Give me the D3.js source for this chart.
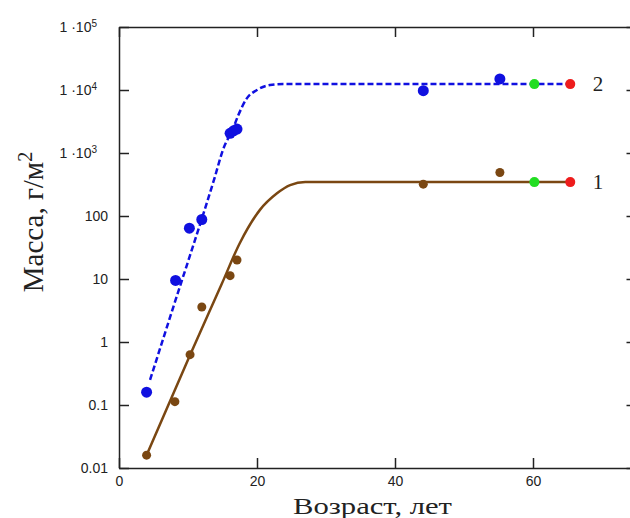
<!DOCTYPE html>
<html>
<head>
<meta charset="utf-8">
<script src="https://cdn.jsdelivr.net/npm/d3@7"></script>
<style>
  body { margin: 0; background: #fff; }
  .tick text { font-family: "Liberation Sans", Arial, sans-serif; font-size: 14px; fill: #222; }
  .title { font-family: "Liberation Serif", "Times New Roman", serif; fill: #222; }
</style>
</head>
<body>
<div id="container"></div>
<script>
/* CONSTANTS AND GLOBALS */
const width = 630,
  height = 518,
  margin = {top: 27, bottom: 50, left: 119, right: -6.5};

// tick values
const xTicks = [0, 20, 40, 60];
const yTicks = [0.01, 0.1, 1, 10, 100, 1e3, 1e4, 1e5];

// series 2 (blue) measured points
const ageBlue = [4, 8.2, 10.2, 12, 16.1, 16.6, 17.1, 44.1, 55.2];
const massBlue = [0.16, 9.5, 64, 88, 2050, 2250, 2400, 9750, 15000];

// series 1 (brown) measured points
const ageBrown = [4, 8.1, 10.3, 12, 16.1, 17.1, 44.1, 55.2];
const massBrown = [0.016, 0.113, 0.63, 3.6, 11.3, 20, 320, 490];

// end points (green, red) for both series
const endAge = [60.2, 65.4];
const endMassBlue = [12400, 12400];
const endMassBrown = [345, 345];

// fitted curves
const curveBlueAge = [4.5, 7.6, 13.9, 15.1, 16.5, 17.3, 18.5, 20.0, 21.9, 23.8, 65.4];
const curveBlueMass = [0.25, 2.9, 420, 1150, 2400, 4000, 7300, 10000, 12000, 12400, 12400];
const curveBrownAge = [4, 10.3, 14.9, 17.5, 20.4, 22.9, 24.8, 27, 65.4];
const curveBrownMass = [0.016, 0.62, 8.4, 37, 124, 229, 309, 345, 345];

const seriesLabels = ["2", "1"];

const colors = {blue: "#1010e0", brown: "#7a4712", green: "#22dd22", red: "#ee1c1c"};

let svg, xScale, yScale;

/* INIT */
function init() {
  xScale = d3.scaleLinear()
    .domain([0, 75])
    .range([margin.left, width - margin.right]);

  yScale = d3.scaleLog()
    .domain([0.01, 1e5])
    .range([height - margin.bottom, margin.top]);

  svg = d3.select("#container")
    .append("svg")
    .attr("width", width)
    .attr("height", height);

  const sup = {"1000": "3", "10000": "4", "100000": "5"};

  // + AXES (ticks point inward on all four sides)
  const xAxis = d3.axisBottom(xScale).tickValues(xTicks).tickSize(-10).tickSizeOuter(0).tickPadding(8);
  const yAxis = d3.axisLeft(yScale).tickValues(yTicks).tickSize(-10).tickSizeOuter(0).tickPadding(11)
    .tickFormat(d => d >= 1000 ? "" : (d < 1 ? d3.format("")(d) : d));

  const xg = svg.append("g")
    .attr("transform", `translate(0,${height - margin.bottom})`)
    .call(xAxis);

  const yg = svg.append("g")
    .attr("transform", `translate(${margin.left},0)`)
    .call(yAxis);

  svg.append("g")
    .attr("transform", `translate(0,${margin.top})`)
    .call(d3.axisTop(xScale).tickValues(xTicks).tickSize(-10).tickSizeOuter(0).tickFormat(""));

  svg.append("g")
    .attr("transform", `translate(${width - margin.right},0)`)
    .call(d3.axisRight(yScale).tickValues(yTicks).tickSize(-10).tickSizeOuter(0).tickFormat(""));

  svg.selectAll(".domain, .tick line").attr("stroke", "#222").attr("stroke-width", 1.5);

  // power labels 1·10^n
  yg.selectAll(".tick")
    .filter(d => d >= 1000)
    .select("text")
    .attr("x", -22)
    .each(function(d) {
      const t = d3.select(this);
      t.append("tspan").text("1 ·10");
      t.append("tspan").attr("dy", "-0.5em").attr("font-size", "10px").text(sup[String(d)]);
    });

  // + LINES
  const line = d3.line()
    .x(d => xScale(d[0]))
    .y(d => yScale(d[1]))
    .curve(d3.curveMonotoneX);

  svg.append("path")
    .datum(d3.zip(curveBrownAge, curveBrownMass))
    .attr("fill", "none")
    .attr("stroke", colors.brown)
    .attr("stroke-width", 2.5)
    .attr("d", line);

  svg.append("path")
    .datum(d3.zip(curveBlueAge, curveBlueMass))
    .attr("fill", "none")
    .attr("stroke", colors.blue)
    .attr("stroke-width", 2.5)
    .attr("stroke-dasharray", "6,3")
    .attr("d", line);

  // + POINTS
  svg.selectAll("circle.brown")
    .data(d3.zip(ageBrown, massBrown))
    .join("circle")
    .attr("class", "brown")
    .attr("cx", d => xScale(d[0]))
    .attr("cy", d => yScale(d[1]))
    .attr("r", 4.5)
    .attr("fill", colors.brown);

  svg.selectAll("circle.blue")
    .data(d3.zip(ageBlue, massBlue))
    .join("circle")
    .attr("class", "blue")
    .attr("cx", d => xScale(d[0]))
    .attr("cy", d => yScale(d[1]))
    .attr("r", 5.5)
    .attr("fill", colors.blue);

  const ends = d3.zip(endAge, endMassBlue, [colors.green, colors.red])
    .concat(d3.zip(endAge, endMassBrown, [colors.green, colors.red]));

  svg.selectAll("circle.end")
    .data(ends)
    .join("circle")
    .attr("class", "end")
    .attr("cx", d => xScale(d[0]))
    .attr("cy", d => yScale(d[1]))
    .attr("r", 5)
    .attr("fill", d => d[2]);

  // + SERIES LABELS
  svg.selectAll("text.slabel")
    .data(d3.zip(seriesLabels, [endMassBlue[1], endMassBrown[1]]))
    .join("text")
    .attr("class", "slabel title")
    .attr("x", 598)
    .attr("y", d => yScale(d[1]) + 7)
    .attr("text-anchor", "middle")
    .attr("font-size", "21px")
    .text(d => d[0]);

  // + AXIS TITLES
  svg.append("text")
    .attr("class", "title")
    .attr("x", 293)
    .attr("y", 514)
    .attr("font-size", "23px")
    .attr("textLength", 159)
    .attr("lengthAdjust", "spacingAndGlyphs")
    .text("Возраст, лет");

  const yt = svg.append("text")
    .attr("class", "title")
    .attr("transform", "translate(43,222) rotate(-90)")
    .attr("text-anchor", "middle")
    .attr("font-size", "29px");
  yt.append("tspan").text("Масса, г/м");
  yt.append("tspan").attr("dy", "-0.55em").attr("font-size", "20px").text("2");
}

init();
</script>
</body>
</html>
